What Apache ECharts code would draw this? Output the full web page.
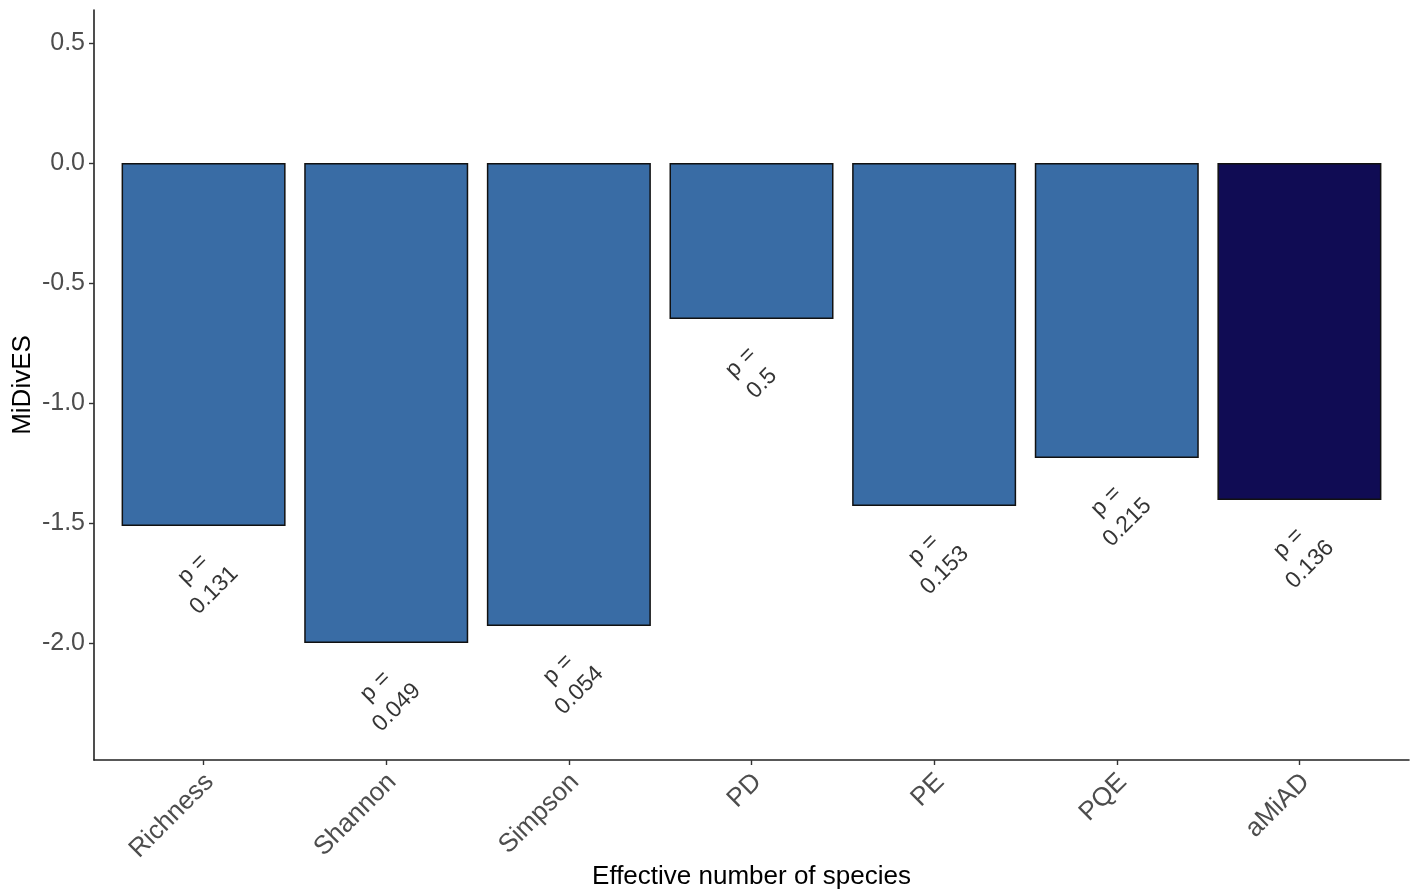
<!DOCTYPE html>
<html>
<head>
<meta charset="utf-8">
<title>MiDivES</title>
<script src="https://cdn.jsdelivr.net/npm/echarts@6/dist/echarts.min.js"></script>
<style>
  html, body { margin: 0; padding: 0; background: #fff; }
  #chart { width: 1416px; height: 894px; }
</style>
</head>
<body>
<div id="chart"></div>
<script>
// data
var categories = ['Richness', 'Shannon', 'Simpson', 'PD', 'PE', 'PQE', 'aMiAD']
var esValues = [-1.512, -2.0, -1.929, -0.65, -1.429, -1.229, -1.404]
var pValues = ['0.131', '0.049', '0.054', '0.5', '0.153', '0.215', '0.136']
var barColors = ['#396CA5', '#396CA5', '#396CA5', '#396CA5', '#396CA5', '#396CA5', '#100C54']
var yTicks = [-2.0, -1.5, -1.0, -0.5, 0.0, 0.5]
var xTicks = [1, 2, 3, 4, 5, 6, 7]

var fontFamily = '"Liberation Sans", Arial, Helvetica, sans-serif'
var labelDrop = 0.225 // p label sits this far below the bar end

var chart = echarts.init(document.getElementById('chart'))

var barData = esValues.map(function (v, i) {
  return {
    value: [i + 1, v],
    itemStyle: { color: barColors[i] }
  }
})
var labelData = esValues.map(function (v, i) {
  return { value: [i + 1, v - labelDrop], p: pValues[i] }
})

var option = {
  animation: false,
  backgroundColor: '#ffffff',
  grid: {
    left: 94,
    right: 7,
    top: 10,
    bottom: 134,
    outerBoundsMode: 'none'
  },
  xAxis: {
    type: 'value',
    min: 0.4,
    max: 7.6,
    name: 'Effective number of species',
    nameLocation: 'middle',
    nameGap: 104,
    nameMoveOverlap: false,
    nameTextStyle: { color: '#000', fontSize: 26, fontFamily: fontFamily },
    splitLine: { show: false },
    axisLine: { show: true, onZero: false, lineStyle: { color: '#222', width: 1.6 } },
    axisTick: {
      show: true,
      length: 5,
      customValues: xTicks,
      lineStyle: { color: '#333', width: 1.4 }
    },
    axisLabel: {
      customValues: xTicks,
      rotate: 45,
      margin: 12,
      verticalAlign: 'top',
      lineHeight: 17,
      color: '#4D4D4D',
      fontSize: 26,
      fontFamily: fontFamily,
      formatter: function (v) {
        return categories[Math.round(v) - 1] || ''
      }
    }
  },
  yAxis: {
    type: 'value',
    min: -2.4875,
    max: 0.6375,
    name: 'MiDivES',
    nameLocation: 'middle',
    nameGap: 58,
    nameMoveOverlap: false,
    nameTextStyle: { color: '#000', fontSize: 26, fontFamily: fontFamily },
    splitLine: { show: false },
    axisLine: { show: true, onZero: false, lineStyle: { color: '#222', width: 1.6 } },
    axisTick: {
      show: true,
      length: 5,
      customValues: yTicks,
      lineStyle: { color: '#333', width: 1.4 }
    },
    axisLabel: {
      customValues: yTicks,
      margin: 9,
      color: '#4D4D4D',
      fontSize: 25,
      fontFamily: fontFamily,
      formatter: function (v) {
        return v.toFixed(1)
      }
    }
  },
  series: [
    {
      name: 'MiDivES',
      type: 'bar',
      barWidth: 164,
      data: barData,
      itemStyle: {
        borderColor: '#111',
        borderWidth: 1.5
      }
    },
    {
      name: 'p',
      type: 'scatter',
      symbolSize: 0,
      data: labelData,
      label: {
        show: true,
        position: 'inside',
        rotate: 45,
        align: 'center',
        verticalAlign: 'middle',
        color: '#000',
        fontSize: 23,
        lineHeight: 30,
        fontFamily: fontFamily,
        formatter: function (params) {
          return 'p =\n' + params.data.p
        }
      }
    }
  ]
}

chart.setOption(option)
</script>
</body>
</html>
